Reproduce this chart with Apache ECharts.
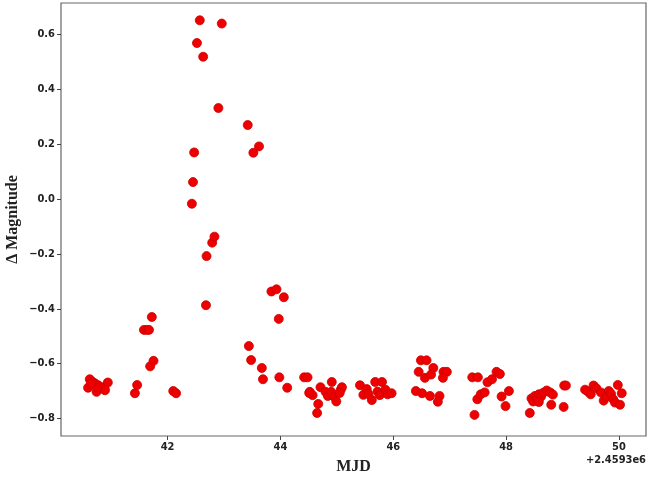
<!DOCTYPE html>
<html>
<head>
<meta charset="utf-8">
<script src="https://cdn.jsdelivr.net/npm/echarts@6/dist/echarts.min.js"></script>
<style>html,body{margin:0;padding:0;background:#fff;}#c{width:656px;height:480px;}</style>
</head>
<body>
<div id="c"></div>
<script>
// MJD values relative to offset 2.4593e6
const mjdOffsetLabel = '+2.4593e6';
const xTicks = [42, 44, 46, 48, 50];
const yTicks = [-0.8, -0.6, -0.4, -0.2, 0.0, 0.2, 0.4, 0.6];

const mjd = [
  // quiescent start
  40.62, 40.59, 40.67, 40.71, 40.74, 40.77, 40.83, 40.88, 40.94, 40.89, 40.75, 40.64,
  // rise
  41.42, 41.46, 41.69, 41.75, 41.72, 41.58, 41.63, 41.67, 42.10, 42.15,
  // peak
  42.43, 42.45, 42.47, 42.52, 42.57, 42.63, 42.68, 42.69, 42.79, 42.83, 42.90, 42.96,
  43.42, 43.52, 43.62, 43.44, 43.48, 43.67, 43.69,
  43.84, 43.93, 44.06, 43.97, 43.98, 44.12,
  // 44.4-45.1
  44.42, 44.48, 44.52, 44.57, 44.51, 44.67, 44.65, 44.71, 44.80, 44.84, 44.91, 44.90, 44.96, 44.99, 45.07, 45.09, 45.05,
  // 45.4-46.0
  45.41, 45.47, 45.53, 45.56, 45.62, 45.68, 45.80, 45.72, 45.76, 45.86, 45.90, 45.97,
  // 46.4-47.0
  46.49, 46.59, 46.45, 46.56, 46.71, 46.67, 46.89, 46.95, 46.88, 46.40, 46.51, 46.65, 46.82, 46.79,
  // 47.4-48.1
  47.40, 47.50, 47.44, 47.49, 47.55, 47.62, 47.67, 47.75, 47.83, 47.89, 47.92, 47.99, 48.05,
  // 48.4-49.1
  48.42, 48.45, 48.48, 48.51, 48.55, 48.58, 48.62, 48.66, 48.72, 48.78, 48.83, 48.80, 48.58, 49.03, 49.06, 49.02,
  // 49.4-50.05
  49.40, 49.45, 49.50, 49.55, 49.60, 49.68, 49.73, 49.78, 49.82, 49.86, 49.90, 49.93, 49.98, 50.02, 50.05
];

const deltaMag = [
  -0.657, -0.688, -0.667, -0.672, -0.703, -0.679, -0.691, -0.685, -0.669, -0.697, -0.687, -0.672,
  -0.708, -0.678, -0.610, -0.590, -0.430, -0.477, -0.477, -0.477, -0.700, -0.708,
  -0.017, 0.062, 0.170, 0.569, 0.652, 0.519, -0.387, -0.208, -0.159, -0.137, 0.332, 0.640,
  0.270, 0.169, 0.192, -0.536, -0.587, -0.616, -0.657,
  -0.337, -0.329, -0.358, -0.437, -0.650, -0.688,
  -0.650, -0.650, -0.703, -0.715, -0.707, -0.747, -0.780, -0.686, -0.703, -0.718, -0.667, -0.703, -0.722, -0.738, -0.695, -0.686, -0.707,
  -0.679, -0.714, -0.693, -0.711, -0.733, -0.667, -0.667, -0.702, -0.715, -0.695, -0.712, -0.708,
  -0.588, -0.588, -0.630, -0.652, -0.616, -0.640, -0.630, -0.630, -0.652, -0.700, -0.708, -0.718, -0.718, -0.739,
  -0.650, -0.650, -0.787, -0.730, -0.712, -0.705, -0.668, -0.657, -0.630, -0.638, -0.720, -0.755, -0.700,
  -0.780, -0.727, -0.738, -0.718, -0.728, -0.712, -0.720, -0.706, -0.698, -0.705, -0.713, -0.750, -0.740, -0.680, -0.680, -0.758,
  -0.695, -0.702, -0.712, -0.680, -0.690, -0.705, -0.735, -0.720, -0.700, -0.710, -0.730, -0.742, -0.678, -0.750, -0.708
];

const points = mjd.map((x, i) => [x, deltaMag[i]]);

const chart = echarts.init(document.getElementById('c'), null, {renderer: 'canvas'});
const tickFont = {fontFamily: 'DejaVu Sans Condensed, DejaVu Sans, sans-serif', fontSize: 11, fontWeight: 'bold', color: '#222'};

chart.setOption({
  animation: false,
  backgroundColor: '#ffffff',
  grid: {left: 61, right: 10, top: 3, bottom: 44, outerBoundsMode: 'none', containLabel: false,
         show: true, borderColor: '#666', borderWidth: 1.2, backgroundColor: '#fff'},
  xAxis: {
    type: 'value', min: 40.11, max: 50.48,
    splitLine: {show: false},
    axisLine: {show: false, onZero: false},
    axisTick: {show: true, length: 4, customValues: xTicks, lineStyle: {color: '#444'}},
    axisLabel: Object.assign({customValues: xTicks, margin: 6, formatter: v => String(Math.round(v))}, tickFont),
    name: 'MJD', nameLocation: 'middle', nameGap: 23, nameMoveOverlap: false,
    nameTextStyle: {fontFamily: 'Liberation Serif, DejaVu Serif, serif', fontSize: 16, fontWeight: 'bold', color: '#222'}
  },
  yAxis: {
    type: 'value', min: -0.864, max: 0.715,
    splitLine: {show: false},
    axisLine: {show: false, onZero: false},
    axisTick: {show: true, length: 4, customValues: yTicks, lineStyle: {color: '#444'}},
    axisLabel: Object.assign({customValues: yTicks, margin: 6, formatter: v => (v < 0 ? '\u2212' : '') + Math.abs(v).toFixed(1)}, tickFont),
    name: '\u0394 Magnitude', nameLocation: 'middle', nameGap: 40, nameRotate: 90, nameMoveOverlap: false,
    nameTextStyle: {fontFamily: 'Liberation Serif, DejaVu Serif, serif', fontSize: 16, fontWeight: 'bold', color: '#222'}
  },
  graphic: [{
    type: 'text', right: 10, top: 455,
    style: {text: mjdOffsetLabel, font: 'bold 11px "DejaVu Sans Condensed", "DejaVu Sans", sans-serif', fill: '#222', textAlign: 'right'}
  }],
  series: [{
    type: 'scatter',
    data: points,
    symbol: 'circle',
    symbolSize: 9,
    itemStyle: {color: '#ee0000', borderColor: '#cc0000', borderWidth: 0.8, opacity: 1}
  }]
});
</script>
</body>
</html>
